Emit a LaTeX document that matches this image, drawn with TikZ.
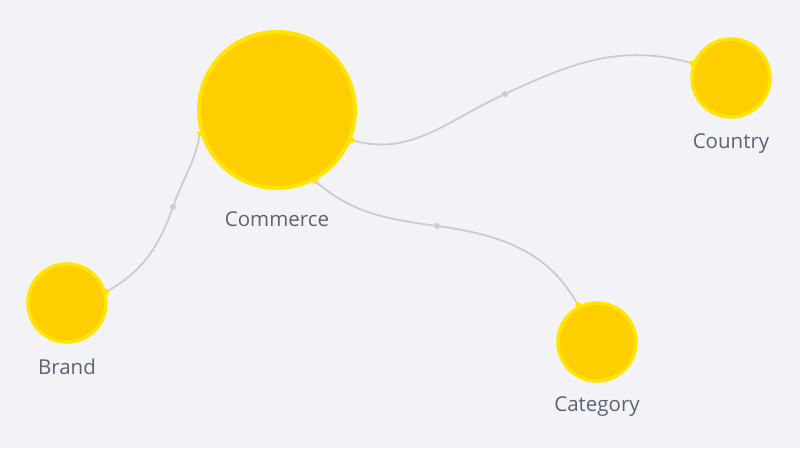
\documentclass[tikz,border=0pt]{standalone}
\usepackage{fontspec}
\setmainfont{Open Sans}
\usetikzlibrary{arrows.meta}
\definecolor{bgcol}{HTML}{F3F3F7}
\definecolor{dotfill}{HTML}{FFCE00}
\definecolor{dotring}{HTML}{FFE500}
\definecolor{linkcol}{HTML}{C9CCD3}
\definecolor{txtcol}{HTML}{5B6374}
\begin{document}
\begin{tikzpicture}[x=1pt,y=-1pt,semithick,
  entity/.style={circle, fill=dotfill, draw=dotring, line width=3.5pt, minimum size=78pt, inner sep=0pt},
  hub/.style={entity, line width=4pt, minimum size=156pt},
  caption/.style={anchor=base, text=txtcol, font=\fontsize{20.5}{24}\selectfont},
  mid/.style={circle, fill=linkcol, minimum size=6pt, inner sep=0pt},
  link/.style={draw=linkcol, line width=1.8pt},
  linkout/.style={link, {Triangle[reversed,length=5pt,width=7pt,color=dotring]}-},
  linkin/.style={link, -{Triangle[reversed,length=5pt,width=7pt,color=dotring]}}]
\fill[bgcol] (0,0) rectangle (800,448);
\useasboundingbox (0,0) rectangle (800,448);
\node[hub] (commerce) at (277,110) {};
\node[entity] (country) at (731,78) {};
\node[entity] (brand) at (67,303) {};
\node[entity] (category) at (597,342) {};
\node[caption] (commerce-txt) at (277,226) {Commerce};
\node[caption] (country-txt) at (731,148) {Country};
\node[caption] (brand-txt) at (67,374) {Brand};
\node[caption] (category-txt) at (597,411) {Category};
\node[mid] (m1) at (505,94) {};
\node[mid] (m2) at (173,207) {};
\node[mid] (m3) at (437,226) {};
% commerce -> country
\draw[linkout] (commerce.338) to[out=-15,in=205] (m1);
\draw[linkin] (m1) to[out=25,in=165] (country.159);
% commerce -> brand
\draw[linkout] (commerce.196) to[out=-100,in=70] (m2);
\draw[linkin] (m2) to[out=-110,in=30] (brand.16);
% commerce -> category
\draw[linkout] (commerce.298) to[out=-40,in=172] (m3);
\draw[linkin] (m3) to[out=-8,in=120] (category.117);
\end{tikzpicture}
\end{document}
